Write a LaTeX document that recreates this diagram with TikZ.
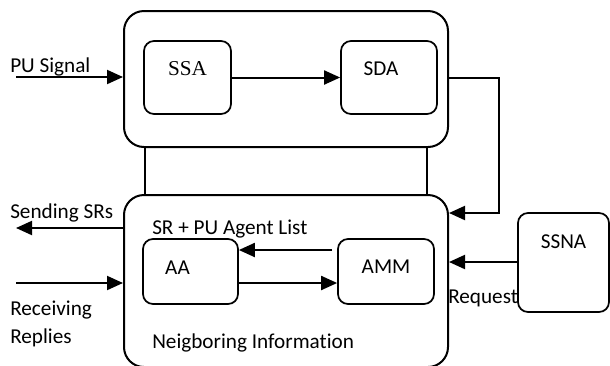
\documentclass[tikz,border=0pt]{standalone}
\usepackage{fontspec}
\setmainfont{Carlito}[Ligatures=NoCommon]
\newfontfamily\timesfont{Liberation Serif}
\usetikzlibrary{arrows.meta}
\begin{document}
\begin{tikzpicture}[x=0.75pt,y=-0.75pt,
  lw/.style={line width=1.5pt},
  sz/.style 2 args={minimum width=#1*0.75pt, minimum height=#2*0.75pt},
  bigbox/.style={draw, lw, rounded corners=15pt, inner sep=0pt},
  smallbox/.style={draw, line width=1.3pt, rounded corners=7.5pt, inner sep=0pt},
  arr/.style={lw, -{Triangle[length=12pt,width=10.5pt]}},
  txt/.style={inner sep=0pt, font=\fontsize{15.9}{19}\selectfont},
  ttxt/.style={inner sep=0pt, font=\timesfont\fontsize{15.9}{19}\selectfont}]
\useasboundingbox (0,0) rectangle (610,365);
\clip (0,0) rectangle (610,365);
% containers
\node[bigbox, sz={324}{136}] (T) at (286,79) {};
\node[bigbox, sz={324}{172}] (B) at (286,281) {};
% inner boxes
\node[smallbox, sz={87}{73}, label={[ttxt, yshift=6.75pt, name=lssa]center:SSA}] (SSA) at (187.5,77.5) {};
\node[smallbox, sz={96}{73}, label={[txt, xshift=-6pt, yshift=6.4pt, name=lsda]center:SDA}] (SDA) at (389,77.5) {};
\node[smallbox, sz={95}{65}, label={[txt, xshift=-9.75pt, yshift=3pt, name=laa]center:AA}] (AA) at (190.5,271.5) {};
\node[smallbox, sz={96}{65}, label={[txt, yshift=3.75pt, name=lamm]center:AMM}] (AMM) at (386,271.5) {};
\node[smallbox, sz={91}{99}, label={[txt, yshift=15.75pt, name=lssna]center:SSNA}] (SSNA) at (563.5,262.5) {};
% helper coordinates
\coordinate (pu) at (16,77);
\coordinate (v1) at (145,0);
\coordinate (v2) at (427,0);
\coordinate (c1) at (499,213);
\coordinate (snd) at (16,228);
\coordinate (rcv) at (16,283);
\coordinate (h1) at (0,250);
\coordinate (h2) at (0,283);
\coordinate (h3) at (0,262);
% connectors
\draw[arr] (pu) -- (T.west |- pu);
\draw[arr] (SSA.east) -- (SDA.west);
\draw[lw] (T.south -| v1) -- (B.north -| v1);
\draw[lw] (T.south -| v2) -- (B.north -| v2);
\draw[arr] (T.east |- SDA) -| (c1) -- (B.east |- c1);
\draw[arr] (B.west |- snd) -- (snd);
\draw[arr] (rcv) -- (B.west |- rcv);
\draw[arr] ([xshift=-3.75pt]AMM.west |- h1) -- (AA.east |- h1);
\draw[arr] (AA.east |- h2) -- (AMM.west |- h2);
\draw[arr] (SSNA.west |- h3) -- (B.east |- h3);
% texts
\node[txt, anchor=base west] (tpu) at (10,72) {PU Signal};
\node[txt, anchor=base west] (tsend) at (10,218) {Sending SRs};
\node[txt, anchor=base west] (trcv1) at (10,315) {Receiving};
\node[txt, anchor=base west] (trcv2) at (10,343) {Replies};
\node[txt, anchor=base west] (tlist) at (152,234) {SR + PU Agent List};
\node[txt, anchor=base west] (tnb) at (152,348) {Neigboring Information};
\node[txt, anchor=base west] (treq) at (448,303) {Request};
\end{tikzpicture}
\end{document}
